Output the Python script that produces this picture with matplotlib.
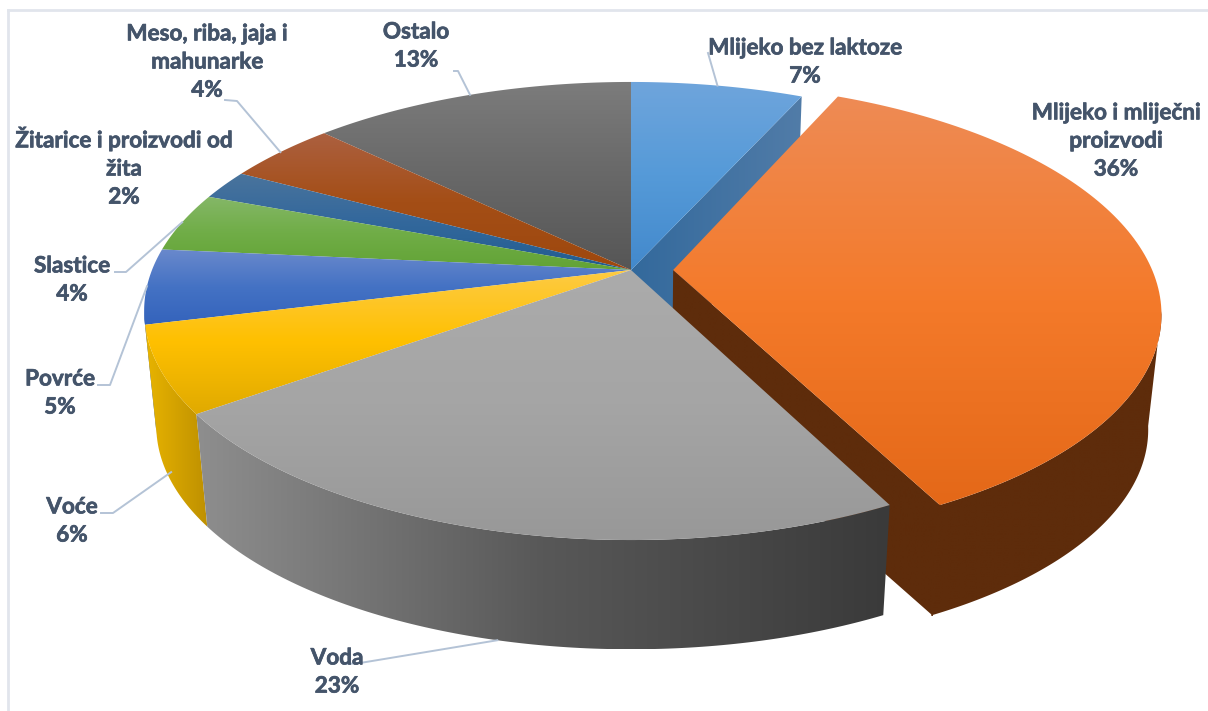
import matplotlib
matplotlib.use("Agg")

import matplotlib.pyplot as plt
import matplotlib.patheffects as pe
from matplotlib.colors import LinearSegmentedColormap
from matplotlib.patches import Polygon
import numpy as np

# udjeli kriski citani s kruga (oznake su zaokruzene)
kategorije = ["Mlijeko bez laktoze", "Mlijeko i mliječni\nproizvodi", "Voda", "Voće", "Povrće",
              "Slastice", "Žitarice i proizvodi od\nžita", "Meso, riba, jaja i\nmahunarke", "Ostalo"]
postotci = ["7%", "36%", "23%", "6%", "5%", "4%", "2%", "4%", "13%"]
udjeli = [6.8, 35.7, 22.6, 6.1, 5.3, 4.2, 2.1, 4.4, 12.8]

# boje: gore, sredina, dolje
boje_vrh = [("#6FA5DC", "#559AD8", "#4389CC"), ("#EE8B55", "#F47A2A", "#E46818"), ("#ABABAB", "#A5A5A5", "#989898"),
            ("#FDCB45", "#FFC000", "#E0AA00"), ("#6A89CC", "#4472C4", "#3463BC"), ("#85B768", "#70AD47", "#62A335"),
            ("#4A749C", "#33689C", "#215C90"), ("#AC6040", "#A44E16", "#9E480E"), ("#7C7C7C", "#686868", "#565656")]
boje_bok = [("#33699C", "#517CA8"), ("#5E2C0B", "#5E2C0B"), ("#8E8E8E", "#585858", "#3A3A3A"),
            ("#E8B400", "#BE9000"), ("#2F5597", "#2F5597"), ("#548235", "#548235"),
            ("#1F4E79", "#1F4E79"), ("#843C0C", "#843C0C"), ("#404040", "#404040")]

polozaj_oznake = [(805, 62), (1116, 141), (337, 672), (72, 521), (60, 393), (72, 280), (124, 167), (207, 62), (416, 46)]
crta_oznake = [(708, 53), None, (347, 664), (101, 513), (98, 385), (115, 272), None, (225, 100), (454, 71)]
koljeno = [None, None, (360, 663), (113, 513), (110, 385), (126, 272), None, (237, 101), (458, 71)]

BOJA_TEKSTA = "#44546A"
BOJA_CRTE = "#B4C3D6"
CX, CY = 631, 270
A, B, K = 221.7, 479, 0.179
DUBINA, SKALA = 116, 0.975
POMAK = 0.088
# kut gdje rub prelazi u vidljivi bok
KUT_D = np.arccos(-K)
KUT_L = 2 * np.pi - KUT_D


def vrh(theta, pomak=0.0):
    u = np.sin(theta) + pomak
    v = -np.cos(theta)
    n = 1 - K * v
    return CX + B * u / n, CY + A * v / n


def dno(x, y):
    return CX + (x - CX) * SKALA, CY + (y - CY) * SKALA + DUBINA


def luk(t0, t1, pomak=0.0):
    t = np.linspace(t0, t1, 120)
    x, y = vrh(t, pomak)
    return np.column_stack([x, y])


def oboji(ax, tocke, boje, smjer, z):
    cm = LinearSegmentedColormap.from_list("g", boje)
    x0, y0 = tocke.min(axis=0)
    x1, y1 = tocke.max(axis=0)
    g = np.linspace(0, 1, 256)
    g = g.reshape(-1, 1) if smjer == "y" else g.reshape(1, -1)
    slika = ax.imshow(g, cmap=cm, vmin=0, vmax=1, extent=(x0, x1, y1, y0), origin="upper",
                      aspect="auto", zorder=z, interpolation="bilinear")
    p = Polygon(tocke, closed=True, transform=ax.transData, fc="none", ec="none")
    ax.add_patch(p)
    slika.set_clip_path(p)


fig = plt.figure(figsize=(12.08, 7.11), dpi=100)
ax = fig.add_axes([0, 0, 1, 1])
plt.rcParams["font.family"] = ["Lato", "DejaVu Sans"]

rubovi = np.concatenate([[0], np.cumsum(udjeli)]) / sum(udjeli) * 2 * np.pi

# redoslijed crtanja: straga prema naprijed
redoslijed = [8, 7, 6, 5, 0, 1, 4, 3, 2]
z = 2
for i in redoslijed:
    t0, t1 = rubovi[i], rubovi[i + 1]
    pomak = POMAK if i == 1 else 0.0
    gornji = luk(t0, t1, pomak)
    sredina = np.array([CX + B * pomak, CY])
    sr_dno = np.array(dno(sredina[0], sredina[1]))

    if i in (0, 1):  # rezna ploha na kraju kriske
        kx, ky = dno(gornji[-1, 0], gornji[-1, 1])
        ploha = np.array([sredina, gornji[-1], [kx, ky], sr_dno])
        oboji(ax, ploha, boje_bok[i], "x", z)
        z += 1

    # bok samo na prednjoj strani
    b0, b1 = max(t0, KUT_D), min(t1, KUT_L)
    if b1 > b0:
        vidljivi = luk(b0, b1, pomak)
        bx, by = dno(vidljivi[:, 0], vidljivi[:, 1])
        bok = np.vstack([vidljivi, np.column_stack([bx, by])[::-1]])
        oboji(ax, bok, boje_bok[i], "x", z)
        z += 1

    if i == 1:  # da se ne vidi spoj ploha
        ax.plot([gornji[-1, 0], kx], [gornji[-1, 1], ky], color=boje_bok[i][0], lw=1.2, zorder=z)
        z += 1

    ploca = np.vstack([sredina, gornji])
    oboji(ax, ploca, boje_vrh[i], "y", z)
    z += 1

# crte do oznaka
for i in range(len(udjeli)):
    if crta_oznake[i] is None:
        continue
    tm = (rubovi[i] + rubovi[i + 1]) / 2
    kx, ky = vrh(tm)
    if i == 2:
        kx, ky = dno(kx, ky)
    if i == 3:
        bx, by = dno(kx, ky)
        kx, ky = kx + (bx - kx) * 0.9, ky + (by - ky) * 0.9
    xs = [crta_oznake[i][0]]
    ys = [crta_oznake[i][1]]
    if koljeno[i] is not None:
        xs.append(koljeno[i][0])
        ys.append(koljeno[i][1])
    xs.append(kx)
    ys.append(ky)
    ax.plot(xs, ys, color=BOJA_CRTE, lw=1.4, zorder=50)

for i in range(len(udjeli)):
    t = ax.text(polozaj_oznake[i][0], polozaj_oznake[i][1], kategorije[i] + "\n" + postotci[i],
                ha="center", va="center", color=BOJA_TEKSTA, fontsize=16.2, fontweight="bold",
                linespacing=1.42, zorder=60)
    t.set_path_effects([pe.withStroke(linewidth=0.5, foreground=BOJA_TEKSTA)])

# okvir slike
ax.plot([8, 8], [711, 10], color="#E1E5EC", lw=2, zorder=1)
ax.plot([8, 1208], [10, 10], color="#E1E5EC", lw=2, zorder=1)

ax.set_xlim(0, 1208)
ax.set_ylim(711, 0)
ax.axis("off")

fig.savefig("out.png", dpi=100)
